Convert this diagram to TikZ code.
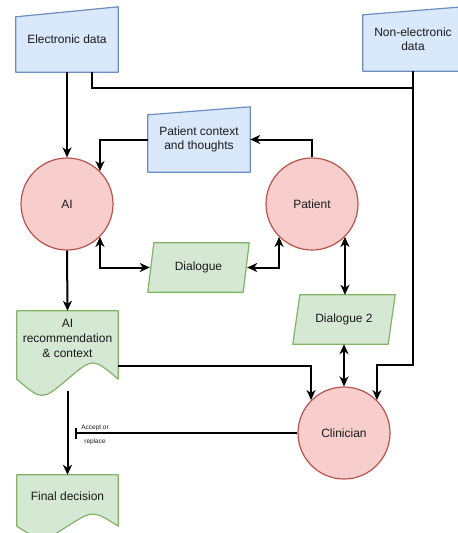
\documentclass[tikz,border=0pt]{standalone}
\usepackage{fontspec}
\setmainfont{Liberation Sans}
\usetikzlibrary{arrows.meta,calc,backgrounds}

\definecolor{bluefill}{HTML}{DAE8FC}
\definecolor{bluedraw}{HTML}{6C8EBF}
\definecolor{greenfill}{HTML}{D5E8D4}
\definecolor{greendraw}{HTML}{82B366}
\definecolor{redfill}{HTML}{F8CECC}
\definecolor{reddraw}{HTML}{B85450}
\definecolor{ink}{HTML}{1A1A1A}

\tikzset{
  box/.style={draw=none, inner sep=0pt, align=center, text=ink,
    font=\fontsize{12}{14.5}\selectfont},
  bluebox/.style={fill=bluefill, draw=bluedraw, line width=1.2pt, line join=round},
  greenbox/.style={fill=greenfill, draw=greendraw, line width=1.2pt, line join=round},
  actor/.style={circle, fill=redfill, draw=reddraw, line width=1.2pt,
    minimum size=92pt, inner sep=0pt, text=ink,
    font=\fontsize{12}{14.5}\selectfont},
  link/.style={draw=black, line width=2pt},
  tip/.style={Stealth[length=10pt,width=9pt,inset=3pt]},
  arr/.style={link, -{Stealth[length=10pt,width=9pt,inset=3pt]}},
  darr/.style={link, {Stealth[length=10pt,width=9pt,inset=3pt]}-{Stealth[length=10pt,width=9pt,inset=3pt]}},
  stop/.style={link, -{Bar[width=11pt,line width=2pt]}},
}

\begin{document}
\begin{tikzpicture}[x=1pt, y=-1pt]
\useasboundingbox (0,0) rectangle (458,533);

% ---- text frames (outlines are drawn on the background layer) ----
\node[box, minimum width=102pt, minimum height=65pt] (ed) at (67,39.5) {Electronic data};
\node[box, minimum width=100pt, minimum height=64pt] (ned) at (413,39) {Non-electronic\\data};
\node[box, minimum width=102pt, minimum height=65pt] (pc) at (199,139.5) {Patient context\\and thoughts};
\node[box, minimum width=101pt, minimum height=49pt] (dl) at (198.5,267.5) {Dialogue};
\node[box, minimum width=102pt, minimum height=49pt] (dl2) at (344,319.5) {Dialogue 2};
\node[box, minimum width=101pt, minimum height=80pt] (air) at (67.5,351) {};
\node[box, font=\fontsize{12}{15}\selectfont] at (67.5,338) {AI\\recommendation\\\& context};
\node[box, minimum width=101pt, minimum height=60pt] (fd) at (67.5,505) {};
\node[box] at (67.5,496) {Final decision};

\node[actor] (ai) at (67,204) {AI};
\node[actor] (pat) at (312,204) {Patient};
\node[actor] (clin) at (344,433) {Clinician};

\begin{scope}[on background layer]
  % manual-input shapes
  \path[bluebox] (ed.south west) -- ($(ed.north west)+(0,10)$) -- (ed.north east) -- (ed.south east) -- cycle;
  \path[bluebox] (ned.south west) -- ($(ned.north west)+(0,8)$) -- (ned.north east) -- (ned.south east) -- cycle;
  \path[bluebox] (pc.south west) -- ($(pc.north west)+(0,8)$) -- (pc.north east) -- (pc.south east) -- cycle;
  % parallelograms
  \path[greenbox] (dl.south west) -- ($(dl.north west)+(6,0)$) -- (dl.north east) -- ($(dl.south east)+(-6,0)$) -- cycle;
  \path[greenbox] (dl2.south west) -- ($(dl2.north west)+(7,0)$) -- (dl2.north east) -- ($(dl2.south east)+(-7,0)$) -- cycle;
  % document shapes with a wavy lower edge
  \path[greenbox] (air.north west) -- (air.north east) -- ($(air.south east)+(0,-12)$)
     .. controls ($(air.south east)+(-25.25,-33.6)$) .. ($(air.south)+(0,-12)$)
     .. controls ($(air.south west)+(25.25,9.6)$) .. ($(air.south west)+(0,-12)$) -- cycle;
  \path[greenbox] (fd.north west) -- (fd.north east) -- ($(fd.south east)+(0,-9)$)
     .. controls ($(fd.south east)+(-25.25,-25.2)$) .. ($(fd.south)+(0,-9)$)
     .. controls ($(fd.south west)+(25.25,7.2)$) .. ($(fd.south west)+(0,-9)$) -- cycle;
\end{scope}

% ---- connectors ----
\coordinate (j) at (413,88);
\draw[arr] (ed.south) -- (ai.north);
\draw[link] ($(ed.south east)+(-26,0)$) |- (j);
\draw[arr] (ned.south) |- ($(clin.north east)+(0,-35)$) -| (clin.north east);
\draw[arr] (pat.north) |- (pc.east);
\draw[arr] (pc.west) -| (ai.north east);
\draw[darr] (ai.south east) |- ($(dl.west)+(2,0)$);
\draw[darr] (pat.south west) |- ($(dl.east)+(-2,0)$);
\draw[darr] (pat.south east) -- (pat.south east |- dl2.north);
\draw[darr] (dl2.south) -- (clin.north);
\draw[arr] (ai.south) -- (air.north);
\draw[arr] ($(air.east)+(0,15)$) -| (clin.north west);
\draw[arr] (air.south) -- (fd.north);
\coordinate (cut) at (75,433);
\draw[stop] (clin.west) -- (cut);
\node[box, font=\fontsize{6.5}{14}\selectfont] (lbl) at (95,434.5) {Accept or\\replace};
\end{tikzpicture}
\end{document}
